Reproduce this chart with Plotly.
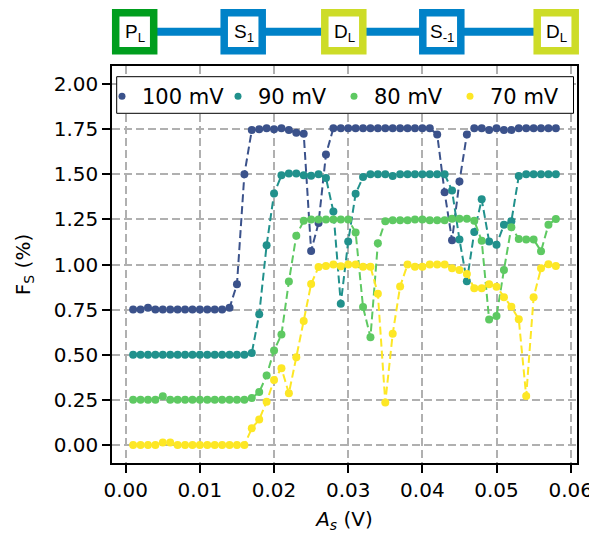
import plotly.graph_objects as go

# ---------------- data ----------------
x_vals = [0.001, 0.002, 0.003, 0.004, 0.005, 0.006, 0.007, 0.008, 0.009, 0.010,
          0.011, 0.012, 0.013, 0.014, 0.015, 0.016, 0.017, 0.018, 0.019, 0.020,
          0.021, 0.022, 0.023, 0.024, 0.025, 0.026, 0.027, 0.028, 0.029, 0.030,
          0.031, 0.032, 0.033, 0.034, 0.035, 0.036, 0.037, 0.038, 0.039, 0.040,
          0.041, 0.042, 0.043, 0.044, 0.045, 0.046, 0.047, 0.048, 0.049, 0.050,
          0.051, 0.052, 0.053, 0.054, 0.055, 0.056, 0.057, 0.058]

f_100mV = [0.75, 0.75, 0.76, 0.75, 0.75, 0.75, 0.75, 0.75, 0.75, 0.75, 0.75, 0.75, 0.75, 0.76,
           0.89, 1.50, 1.745, 1.75, 1.755, 1.75, 1.755, 1.745, 1.73, 1.725,
           1.075, 1.23, 1.61,
           1.755, 1.755, 1.755, 1.755, 1.755, 1.755, 1.755, 1.755, 1.755, 1.755, 1.755, 1.755, 1.755, 1.755,
           1.72, 1.40, 1.135, 1.46, 1.72,
           1.755, 1.755, 1.745, 1.755, 1.745, 1.745, 1.755, 1.755, 1.755, 1.755, 1.755, 1.755]

f_90mV = [0.50, 0.50, 0.50, 0.50, 0.50, 0.50, 0.50, 0.50, 0.50, 0.50, 0.50, 0.50, 0.50, 0.50, 0.50, 0.50,
          0.51, 0.725, 1.107, 1.393, 1.494, 1.504, 1.504, 1.495, 1.492, 1.50, 1.48, 1.294, 0.783, 1.128, 1.392, 1.485,
          1.50, 1.50, 1.50, 1.49, 1.50, 1.50, 1.50, 1.50, 1.50, 1.50, 1.50,
          1.41, 1.138, 0.907, 1.18, 1.361, 1.128, 1.11, 1.22, 1.24, 1.49,
          1.50, 1.50, 1.50, 1.50, 1.50]

f_80mV = [0.25, 0.25, 0.25, 0.25, 0.27,
          0.25, 0.25, 0.25, 0.25, 0.25, 0.25, 0.25, 0.25, 0.25, 0.25, 0.25,
          0.26, 0.293, 0.385, 0.524, 0.612, 0.906, 1.16, 1.242,
          1.25, 1.25, 1.25, 1.25, 1.25, 1.25,
          1.178, 0.764, 0.597, 1.118, 1.24,
          1.245, 1.245, 1.245, 1.25, 1.25, 1.245, 1.245, 1.245,
          1.254, 1.254, 1.254,
          1.242, 1.132, 0.695, 0.714, 0.97, 1.207, 1.142, 1.139, 1.139, 1.074, 1.22, 1.252]

f_70mV = [0.0, 0.0, 0.0, 0.0, 0.013, 0.013,
          0.0, 0.0, 0.0, 0.0, 0.0, 0.0, 0.0, 0.0, 0.0, 0.0,
          0.092, 0.141, 0.24, 0.36, 0.425, 0.286, 0.486, 0.687, 0.892, 0.986,
          0.992, 1.0, 0.99, 1.0, 1.0, 0.988, 0.988, 0.838, 0.235, 0.616,
          0.878, 1.0, 0.988, 0.988, 1.0, 1.0, 1.0, 0.979, 0.970, 0.948,
          0.868, 0.868, 0.89, 0.877, 0.818, 0.766, 0.696, 0.271, 0.818, 0.979,
          1.002, 0.992]

series_names = ["100 mV", "90 mV", "80 mV", "70 mV"]
series_vals = [f_100mV, f_90mV, f_80mV, f_70mV]
series_colors = ["#3b528b", "#21918c", "#5ec962", "#fde725"]

x_ticks = [0.00, 0.01, 0.02, 0.03, 0.04, 0.05, 0.06]
x_ticklabels = ["0.00", "0.01", "0.02", "0.03", "0.04", "0.05", "0.06"]
y_ticks = [0.0, 0.25, 0.5, 0.75, 1.0, 1.25, 1.5, 1.75, 2.0]
y_ticklabels = ["0.00", "0.25", "0.50", "0.75", "1.00", "1.25", "1.50", "1.75", "2.00"]

diagram_labels = ["P<sub>L</sub>", "S<sub>1</sub>", "D<sub>L</sub>", "S<sub>-1</sub>", "D<sub>L</sub>"]
diagram_colors = ["#009e1e", "#0082c8", "#cddc28", "#0082c8", "#cddc28"]
link_color = "#0082c8"

# ---------------- layout geometry ----------------
# page body has an 8px margin: the figure starts at (8, 8) on the page
OFF = 8
W, H = 597 - OFF, 533 - OFF
PLOT_L, PLOT_R, PLOT_T, PLOT_B = 112, 577, 66, 463  # target positions on the page
L, T = PLOT_L - OFF, PLOT_T - OFF
R, B = W - (PLOT_R - OFF), H - (PLOT_B - OFF)
PW, PH = PLOT_R - PLOT_L, PLOT_B - PLOT_T


def px2x(px):
    return (px - PLOT_L) / PW


def py2y(py):
    return (PLOT_B - py) / PH


fig = go.Figure()

for name, vals, col in zip(series_names, series_vals, series_colors):
    fig.add_trace(go.Scatter(
        x=x_vals, y=vals, mode="lines+markers", name=name, showlegend=False,
        line=dict(color=col, width=2, dash="8px,4px"),
        marker=dict(color=col, size=8),
    ))

for name, col in zip(series_names, series_colors):
    fig.add_trace(go.Scatter(
        x=[None], y=[None], mode="markers", name=name,
        marker=dict(color=col, size=7),
    ))

# ---------------- top diagram ----------------
box_cx = [134.7, 243.2, 343.8, 441.8, 556.2]
box_cy = 31.8
half = 19.0
border = 7.5

shapes = [dict(type="line", xref="paper", yref="paper", layer="above",
               x0=px2x(box_cx[0]), x1=px2x(box_cx[-1]),
               y0=py2y(box_cy), y1=py2y(box_cy),
               line=dict(color=link_color, width=8))]
annotations = []
for cx, col, lab in zip(box_cx, diagram_colors, diagram_labels):
    shapes.append(dict(type="rect", xref="paper", yref="paper", layer="above",
                       x0=px2x(cx - half), x1=px2x(cx + half),
                       y0=py2y(box_cy + half), y1=py2y(box_cy - half),
                       line=dict(color=col, width=border), fillcolor="white"))
    annotations.append(dict(xref="paper", yref="paper", x=px2x(cx + 0.5), y=py2y(box_cy + 1),
                            text=lab, showarrow=False, xanchor="center", yanchor="middle",
                            font=dict(family="Liberation Sans, Arial", size=19, color="black")))

# legend frame
shapes.append(dict(type="rect", xref="paper", yref="paper", layer="above",
                   x0=px2x(116.7), x1=px2x(573.5), y0=py2y(113.3), y1=py2y(76.7),
                   line=dict(color="black", width=1), fillcolor="white"))

axis_common = dict(
    showline=True, linecolor="black", linewidth=1.5, mirror=True,
    ticks="outside", ticklen=8, tickwidth=1.5, tickcolor="black",
    showgrid=True, gridcolor="#b0b0b0", gridwidth=1.5, griddash="8px,4px",
    zeroline=False, tickfont=dict(size=20, color="black"), automargin=False,
)

fig.update_layout(
    width=W, height=H,
    margin=dict(l=L, r=R, t=T, b=B, autoexpand=False),
    paper_bgcolor="white", plot_bgcolor="white",
    font=dict(family="DejaVu Sans", size=20, color="black"),
    shapes=shapes, annotations=annotations,
    legend=dict(orientation="h", x=0, y=py2y(76), xanchor="left", yanchor="top",
                indentation=-10, entrywidth=81, entrywidthmode="pixels",
                bgcolor="rgba(0,0,0,0)", borderwidth=0,
                font=dict(size=21, color="black"), itemwidth=30),
    xaxis=dict(range=[-0.00185, 0.06085], tickvals=x_ticks, ticktext=x_ticklabels,
               title=dict(text="<i>A<sub>s</sub></i> (V)", standoff=13, font=dict(size=20)),
               **axis_common),
    yaxis=dict(range=[-0.1, 2.1], tickvals=y_ticks, ticktext=y_ticklabels,
               title=dict(text="F<sub>S</sub> (%)", standoff=18, font=dict(size=20)),
               **axis_common),
)

fig.write_html("out.html")
